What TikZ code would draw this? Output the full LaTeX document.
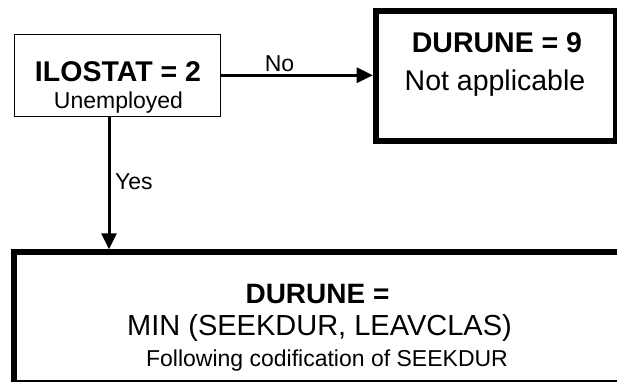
\documentclass[tikz,border=0pt]{standalone}
\usepackage{fontspec}
\setmainfont{Liberation Sans}
\usetikzlibrary{arrows.meta}
\begin{document}
\begin{tikzpicture}[x=1pt,y=-1pt,
  thinbox/.style={draw=black, rectangle, line width=1pt, inner sep=0pt, outer sep=0.5pt},
  thickbox/.style={draw=black, rectangle, line width=6pt, inner sep=0pt, outer sep=3pt},
  bigfont/.style={font=\fontsize{28.5}{34}\selectfont},
  bigbold/.style={font=\fontsize{28.5}{34}\selectfont\bfseries},
  smallfont/.style={font=\fontsize{23}{28}\selectfont},
  lbl/.style={inner sep=0pt, anchor=base},
  conn/.style={line width=3pt, -{Triangle[length=16pt,width=15pt]}},
]
\useasboundingbox (0,0) rectangle (617,381);
% boxes
\node[thinbox, minimum width=206.5pt, minimum height=82.5pt] (ilo) at (117.25,75.25) {};
\node[thickbox, minimum width=240pt, minimum height=129.7pt] (dur9) at (495.7,76.15) {};
\node[thickbox, line width=5.5pt, outer sep=2.75pt, minimum width=605.3pt, minimum height=130.5pt] (durmin) at (316.85,317.25) {};
% texts
\node[lbl, bigbold] (ilo1) at (118,81) {ILOSTAT = 2};
\node[lbl, smallfont] (ilo2) at (118.5,108.5) {Unemployed};
\node[lbl, bigbold] (d91) at (497,52.7) {DURUNE = 9};
\node[lbl, bigfont] (d92) at (495,90.7) {Not applicable};
\node[lbl, font=\fontsize{28}{34}\selectfont\bfseries] (dm1) at (317.5,303) {DURUNE =};
\node[lbl, font=\fontsize{29}{34}\selectfont] (dm2) at (319.5,335) {MIN (SEEKDUR, LEAVCLAS)};
\node[lbl, smallfont] (dm3) at (327,366.5) {Following codification of SEEKDUR};
% connectors
\coordinate (yesx) at (109,0);
\draw[conn] (ilo.east) -- (ilo.east -| dur9.west);
\draw[conn] (ilo.south -| yesx) -- (durmin.north -| yesx);
\node[lbl, smallfont] (no) at (279.5,71) {No};
\node[lbl, smallfont, anchor=base west] (yes) at (115,189) {Yes};
\end{tikzpicture}
\end{document}
